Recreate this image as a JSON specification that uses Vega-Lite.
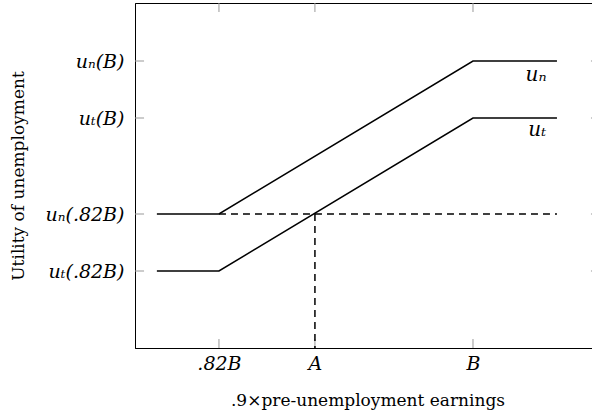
{
  "$schema": "https://vega.github.io/schema/vega-lite/v6.json",
  "width": 465,
  "height": 345,
  "autosize": {"type": "none"},
  "padding": {"left": 135, "top": 3, "right": 0, "bottom": 66},
  "background": "white",
  "config": {
    "view": {"stroke": "black", "strokeWidth": 1},
    "axis": {
      "grid": false,
      "ticks": false,
      "domainColor": "black",
      "labelFont": "DejaVu Serif",
      "labelFontStyle": "italic",
      "labelFontSize": 19,
      "labelColor": "black",
      "titleFont": "DejaVu Serif",
      "titleFontWeight": "normal",
      "titleFontSize": 17,
      "titleColor": "black"
    }
  },
  "datasets": {
    "curves": [
      {"series": "n", "x": 0.776, "y": 134},
      {"series": "n", "x": 0.82, "y": 134},
      {"series": "n", "x": 1.0, "y": 287},
      {"series": "n", "x": 1.0595, "y": 287},
      {"series": "t", "x": 0.776, "y": 77},
      {"series": "t", "x": 0.82, "y": 77},
      {"series": "t", "x": 1.0, "y": 230},
      {"series": "t", "x": 1.0595, "y": 230}
    ],
    "dashes": [
      {"seg": "h", "x": 0.82, "y": 134},
      {"seg": "h", "x": 1.0595, "y": 134},
      {"seg": "v", "x": 0.888, "y": 134},
      {"seg": "v", "x": 0.888, "y": 0}
    ],
    "labels": [
      {"label": "uₙ", "x": 1.0447, "y": 273},
      {"label": "uₜ", "x": 1.0455, "y": 218}
    ],
    "ticks": [
      {"x": 0.82, "x2": 0.82, "y": 0, "y2": 9},
      {"x": 0.888, "x2": 0.888, "y": 0, "y2": 9},
      {"x": 1.0, "x2": 1.0, "y": 0, "y2": 9},
      {"x": 0.82, "x2": 0.82, "y": 336, "y2": 345},
      {"x": 0.888, "x2": 0.888, "y": 336, "y2": 345},
      {"x": 1.0, "x2": 1.0, "y": 336, "y2": 345},
      {"x": 0.7605, "x2": 0.7669, "y": 77, "y2": 77},
      {"x": 0.7605, "x2": 0.7669, "y": 134, "y2": 134},
      {"x": 0.7605, "x2": 0.7669, "y": 230, "y2": 230},
      {"x": 0.7605, "x2": 0.7669, "y": 287, "y2": 287},
      {"x": 1.0836, "x2": 1.09, "y": 77, "y2": 77},
      {"x": 1.0836, "x2": 1.09, "y": 134, "y2": 134},
      {"x": 1.0836, "x2": 1.09, "y": 230, "y2": 230},
      {"x": 1.0836, "x2": 1.09, "y": 287, "y2": 287}
    ]
  },
  "layer": [
    {
      "data": {"name": "ticks"},
      "mark": {"type": "rule", "color": "#999999", "strokeWidth": 1},
      "encoding": {
        "x": {"field": "x", "type": "quantitative", "scale": {"domain": [0.7605, 1.09], "nice": false, "zero": false},
          "axis": {"values": [0.82, 0.888, 1], "labelExpr": "datum.value == 1 ? 'B' : (datum.value < 0.85 ? '.82B' : 'A')", "title": ".9×pre-unemployment earnings", "labelPadding": 6, "titlePadding": 19, "titleFontStyle": "normal"}},
        "x2": {"field": "x2"},
        "y": {"field": "y", "type": "quantitative", "scale": {"domain": [0, 345], "nice": false, "zero": false},
          "axis": {"values": [77, 134, 230, 287], "labelExpr": "datum.value == 77 ? 'uₜ(.82B)' : datum.value == 134 ? 'uₙ(.82B)' : datum.value == 230 ? 'uₜ(B)' : 'uₙ(B)'", "title": "Utility of unemployment", "labelPadding": 11, "titlePadding": 18}},
        "y2": {"field": "y2"}
      }
    },
    {
      "data": {"name": "dashes"},
      "mark": {"type": "line", "color": "black", "strokeWidth": 1.5, "strokeDash": [7, 5]},
      "encoding": {
        "x": {"field": "x", "type": "quantitative"},
        "y": {"field": "y", "type": "quantitative"},
        "detail": {"field": "seg"}
      }
    },
    {
      "data": {"name": "curves"},
      "mark": {"type": "line", "color": "black", "strokeWidth": 1.5},
      "encoding": {
        "x": {"field": "x", "type": "quantitative"},
        "y": {"field": "y", "type": "quantitative"},
        "detail": {"field": "series"}
      }
    },
    {
      "data": {"name": "labels"},
      "mark": {"type": "text", "font": "DejaVu Serif", "fontStyle": "italic", "fontSize": 20, "color": "black"},
      "encoding": {
        "x": {"field": "x", "type": "quantitative"},
        "y": {"field": "y", "type": "quantitative"},
        "text": {"field": "label"}
      }
    }
  ]
}
